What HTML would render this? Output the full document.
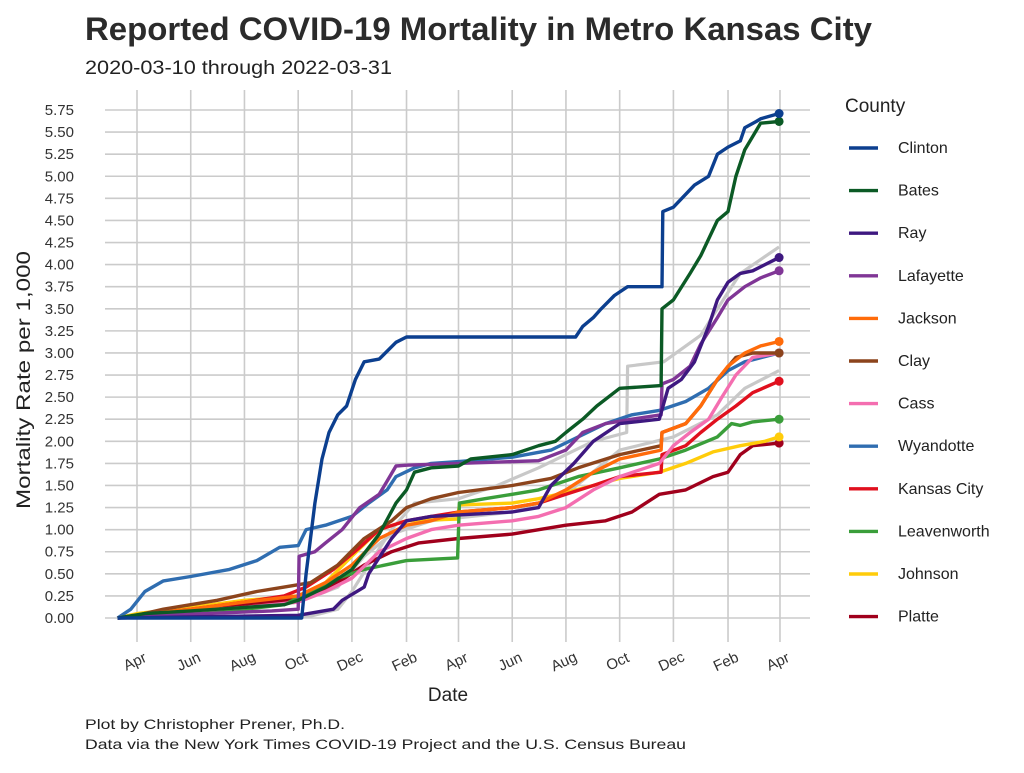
<!DOCTYPE html>
<html><head><meta charset="utf-8"><style>
body{margin:0;background:#fff;}
svg text{font-family:"Liberation Sans",sans-serif;}
</style></head><body>
<svg id="chart" width="1024" height="768" viewBox="0 0 1024 768" xmlns="http://www.w3.org/2000/svg">
<text x="85" y="40" font-size="32" font-weight="bold" fill="#2b2b2b" textLength="787" lengthAdjust="spacingAndGlyphs">Reported COVID-19 Mortality in Metro Kansas City</text>
<text x="85" y="74" font-size="19" fill="#222" textLength="307" lengthAdjust="spacingAndGlyphs">2020-03-10 through 2022-03-31</text>
<g id="grid"></g>
<g id="yticks"></g>
<g id="xticks"></g>
<g id="series"></g>
<text transform="translate(30,380) rotate(-90)" text-anchor="middle" font-size="19" fill="#222" textLength="258" lengthAdjust="spacingAndGlyphs">Mortality Rate per 1,000</text>
<text x="448" y="701" text-anchor="middle" font-size="19" fill="#222">Date</text>
<text x="85" y="729" font-size="14" fill="#222" textLength="260" lengthAdjust="spacingAndGlyphs">Plot by Christopher Prener, Ph.D.</text>
<text x="85" y="749" font-size="14" fill="#222" textLength="601" lengthAdjust="spacingAndGlyphs">Data via the New York Times COVID-19 Project and the U.S. Census Bureau</text>
<g id="legend">
<text x="845" y="112" font-size="19" fill="#222">County</text>
</g>
</svg>
<script>
const yTicks = [0,0.25,0.5,0.75,1,1.25,1.5,1.75,2,2.25,2.5,2.75,3,3.25,3.5,3.75,4,4.25,4.5,4.75,5,5.25,5.5,5.75];
const xTickDates = ["2020-04-01","2020-06-01","2020-08-01","2020-10-01","2020-12-01","2021-02-01","2021-04-01","2021-06-01","2021-08-01","2021-10-01","2021-12-01","2022-02-01","2022-04-01"];
const xTickLabels = ["Apr","Jun","Aug","Oct","Dec","Feb","Apr","Jun","Aug","Oct","Dec","Feb","Apr"];
const countyNames = ["Clinton","Bates","Ray","Lafayette","Jackson","Clay","Cass","Wyandotte","Kansas City","Leavenworth","Johnson","Platte"];
const countyColors = ["#0c3f8f","#0b5a25","#3e1880","#803696","#ff6b0a","#8c441c","#f46eb0","#2f6db0","#e0101e","#3a9e3a","#ffcc0a","#a0001c"];
const greyA = [["2020-03-10",0],["2020-10-15",0.02],["2020-11-15",0.1],["2020-12-01",0.3],["2020-12-20",0.6],["2021-01-15",1.0],["2021-02-10",1.3],["2021-04-01",1.35],["2021-05-15",1.5],["2021-07-01",1.7],["2021-09-01",2.0],["2021-10-09",2.1],["2021-10-10",2.85],["2021-11-20",2.9],["2022-01-01",3.2],["2022-01-20",3.5],["2022-02-15",3.9],["2022-03-31",4.2]];
const greyB = [["2020-03-10",0],["2020-08-01",0.1],["2020-10-01",0.18],["2020-11-15",0.35],["2020-12-15",0.7],["2021-01-15",0.95],["2021-03-01",1.1],["2021-06-01",1.2],["2021-08-01",1.4],["2021-10-01",1.9],["2021-12-01",2.05],["2022-01-20",2.3],["2022-02-20",2.6],["2022-03-31",2.8]];
const clinton = [["2020-03-10",0],["2020-10-05",0],["2020-10-10",0.5],["2020-10-15",0.9],["2020-10-20",1.3],["2020-10-28",1.8],["2020-11-05",2.1],["2020-11-15",2.3],["2020-11-25",2.4],["2020-12-05",2.7],["2020-12-15",2.9],["2021-01-01",2.93],["2021-01-20",3.12],["2021-02-01",3.18],["2021-08-12",3.18],["2021-08-20",3.3],["2021-09-01",3.4],["2021-09-10",3.5],["2021-09-25",3.65],["2021-10-10",3.75],["2021-11-18",3.75],["2021-11-19",4.6],["2021-12-01",4.65],["2021-12-25",4.9],["2022-01-10",5.0],["2022-01-20",5.25],["2022-02-01",5.33],["2022-02-15",5.4],["2022-02-20",5.55],["2022-03-05",5.62],["2022-03-10",5.65],["2022-03-31",5.71]];
const bates = [["2020-03-10",0],["2020-04-10",0.05],["2020-06-01",0.08],["2020-08-01",0.12],["2020-09-15",0.15],["2020-10-01",0.2],["2020-11-01",0.35],["2020-12-01",0.55],["2021-01-01",0.95],["2021-01-20",1.3],["2021-02-01",1.45],["2021-02-10",1.65],["2021-03-01",1.7],["2021-04-01",1.72],["2021-04-15",1.8],["2021-06-01",1.85],["2021-07-01",1.95],["2021-07-20",2.0],["2021-08-01",2.1],["2021-08-20",2.25],["2021-09-05",2.4],["2021-10-01",2.6],["2021-11-17",2.63],["2021-11-18",3.5],["2021-12-01",3.6],["2021-12-20",3.9],["2022-01-01",4.1],["2022-01-20",4.5],["2022-02-01",4.6],["2022-02-10",5.0],["2022-02-20",5.3],["2022-03-01",5.45],["2022-03-10",5.6],["2022-03-31",5.62]];
const ray = [["2020-03-10",0],["2020-10-01",0.03],["2020-11-10",0.1],["2020-11-20",0.2],["2020-12-15",0.35],["2020-12-20",0.5],["2021-01-15",0.9],["2021-02-01",1.1],["2021-03-01",1.15],["2021-06-01",1.2],["2021-07-01",1.25],["2021-07-15",1.5],["2021-08-10",1.75],["2021-09-01",2.0],["2021-10-01",2.2],["2021-11-15",2.25],["2021-11-25",2.6],["2021-12-10",2.7],["2021-12-25",2.9],["2022-01-10",3.3],["2022-01-20",3.6],["2022-02-01",3.8],["2022-02-15",3.9],["2022-03-01",3.93],["2022-03-25",4.05],["2022-03-31",4.08]];
const lafayette = [["2020-03-10",0],["2020-05-01",0.03],["2020-09-01",0.08],["2020-10-01",0.1],["2020-10-02",0.7],["2020-10-20",0.75],["2020-11-01",0.85],["2020-11-20",1.0],["2020-12-10",1.25],["2021-01-01",1.4],["2021-01-10",1.55],["2021-01-20",1.72],["2021-02-01",1.73],["2021-07-01",1.78],["2021-08-01",1.9],["2021-08-20",2.1],["2021-09-15",2.2],["2021-10-15",2.25],["2021-11-17",2.3],["2021-11-18",2.65],["2021-12-01",2.7],["2021-12-20",2.85],["2022-01-01",3.1],["2022-01-20",3.4],["2022-02-01",3.6],["2022-02-20",3.75],["2022-03-10",3.85],["2022-03-31",3.93]];
const jackson = [["2020-03-10",0],["2020-04-01",0.03],["2020-06-01",0.1],["2020-08-01",0.18],["2020-10-01",0.25],["2020-11-01",0.4],["2020-12-01",0.6],["2021-01-01",0.9],["2021-02-01",1.05],["2021-03-01",1.1],["2021-04-01",1.2],["2021-06-01",1.25],["2021-07-01",1.3],["2021-08-01",1.45],["2021-09-01",1.65],["2021-10-01",1.8],["2021-11-17",1.9],["2021-11-18",2.1],["2021-12-15",2.2],["2022-01-01",2.4],["2022-01-20",2.7],["2022-02-01",2.85],["2022-02-20",3.0],["2022-03-10",3.08],["2022-03-31",3.13]];
const clay = [["2020-03-10",0],["2020-04-01",0.03],["2020-05-01",0.1],["2020-07-01",0.2],["2020-08-15",0.3],["2020-09-15",0.35],["2020-10-15",0.4],["2020-11-15",0.6],["2020-12-15",0.9],["2021-01-15",1.1],["2021-02-01",1.25],["2021-03-01",1.35],["2021-04-01",1.42],["2021-06-01",1.5],["2021-07-15",1.58],["2021-08-15",1.7],["2021-10-01",1.85],["2021-11-17",1.95],["2021-11-18",2.1],["2021-12-15",2.2],["2022-01-01",2.4],["2022-01-20",2.7],["2022-02-10",2.95],["2022-03-01",3.0],["2022-03-31",3.0]];
const cass = [["2020-03-10",0],["2020-04-01",0.03],["2020-06-01",0.08],["2020-08-01",0.12],["2020-10-01",0.18],["2020-11-01",0.3],["2020-12-01",0.45],["2021-01-01",0.75],["2021-02-01",0.9],["2021-03-01",1.0],["2021-04-01",1.05],["2021-06-01",1.1],["2021-07-01",1.15],["2021-08-01",1.25],["2021-09-01",1.45],["2021-10-01",1.6],["2021-11-15",1.75],["2021-12-01",1.95],["2021-12-20",2.1],["2022-01-10",2.25],["2022-01-25",2.5],["2022-02-10",2.75],["2022-03-01",2.95],["2022-03-31",3.0]];
const wyandotte = [["2020-03-10",0],["2020-03-25",0.1],["2020-04-10",0.3],["2020-05-01",0.42],["2020-06-01",0.47],["2020-07-15",0.55],["2020-08-15",0.65],["2020-09-10",0.8],["2020-10-01",0.82],["2020-10-10",1.0],["2020-11-01",1.05],["2020-12-01",1.15],["2020-12-20",1.3],["2021-01-10",1.45],["2021-01-20",1.6],["2021-02-10",1.7],["2021-03-01",1.75],["2021-04-01",1.77],["2021-06-01",1.82],["2021-07-15",1.9],["2021-08-15",2.05],["2021-09-15",2.2],["2021-10-15",2.3],["2021-11-15",2.35],["2021-12-15",2.45],["2022-01-10",2.6],["2022-02-01",2.8],["2022-02-20",2.9],["2022-03-31",3.0]];
const kansasCity = [["2020-03-10",0],["2020-04-01",0.03],["2020-06-01",0.1],["2020-08-01",0.18],["2020-09-15",0.25],["2020-10-10",0.35],["2020-11-10",0.55],["2020-12-10",0.8],["2021-01-01",1.0],["2021-02-01",1.1],["2021-03-01",1.15],["2021-04-01",1.2],["2021-06-01",1.25],["2021-07-01",1.3],["2021-08-01",1.4],["2021-09-01",1.5],["2021-10-01",1.6],["2021-11-17",1.65],["2021-11-18",1.85],["2021-12-15",1.95],["2022-01-01",2.1],["2022-01-20",2.25],["2022-02-10",2.4],["2022-03-01",2.55],["2022-03-31",2.68]];
const leavenworth = [["2020-03-10",0],["2020-04-01",0.03],["2020-06-01",0.07],["2020-08-01",0.1],["2020-09-15",0.15],["2020-10-15",0.3],["2020-11-15",0.45],["2020-12-15",0.55],["2021-02-01",0.65],["2021-03-31",0.68],["2021-04-02",1.3],["2021-05-01",1.35],["2021-06-01",1.4],["2021-07-01",1.45],["2021-08-15",1.6],["2021-10-01",1.7],["2021-11-15",1.8],["2021-12-15",1.9],["2022-01-20",2.05],["2022-02-05",2.2],["2022-02-15",2.18],["2022-03-01",2.22],["2022-03-31",2.25]];
const johnson = [["2020-03-10",0],["2020-04-01",0.05],["2020-06-01",0.12],["2020-08-01",0.2],["2020-10-01",0.25],["2020-11-01",0.4],["2020-12-01",0.7],["2021-01-01",1.0],["2021-02-01",1.1],["2021-03-31",1.12],["2021-04-02",1.28],["2021-06-01",1.3],["2021-07-01",1.35],["2021-08-01",1.42],["2021-09-01",1.5],["2021-10-01",1.58],["2021-11-15",1.65],["2021-12-15",1.75],["2022-01-15",1.88],["2022-02-15",1.95],["2022-03-15",2.0],["2022-03-31",2.05]];
const platte = [["2020-03-10",0],["2020-04-01",0.02],["2020-06-01",0.05],["2020-08-01",0.15],["2020-09-15",0.2],["2020-10-15",0.25],["2020-11-15",0.4],["2020-12-15",0.6],["2021-01-15",0.75],["2021-02-15",0.85],["2021-04-01",0.9],["2021-06-01",0.95],["2021-08-01",1.05],["2021-09-15",1.1],["2021-10-15",1.2],["2021-11-15",1.4],["2021-12-15",1.45],["2022-01-15",1.6],["2022-02-01",1.65],["2022-02-15",1.85],["2022-03-01",1.95],["2022-03-31",1.98]];
const seriesData = [clinton,bates,ray,lafayette,jackson,clay,cass,wyandotte,kansasCity,leavenworth,johnson,platte];

const NS="http://www.w3.org/2000/svg";
const X0=137, XPD=0.8808, Y0=618, YPU=88.35;
const base=Date.UTC(2020,3,1);
function day(s){const p=s.split("-");return (Date.UTC(+p[0],+p[1]-1,+p[2])-base)/86400000;}
function xs(s){return X0+day(s)*XPD;}
function ys(v){return Y0-v*YPU;}
function mk(tag,attrs,parent){const e=document.createElementNS(NS,tag);for(const k in attrs)e.setAttribute(k,attrs[k]);parent.appendChild(e);return e;}

const grid=document.getElementById("grid"), yt=document.getElementById("yticks"), xt=document.getElementById("xticks");
yTicks.forEach(v=>{
  const l=mk("line",{x1:105,x2:810,y1:ys(v),y2:ys(v),stroke:"#cbcbcb","stroke-width":1.6},grid);
  
  
  const t=mk("text",{x:74,y:ys(v)+5,"text-anchor":"end","font-size":15,fill:"#333"},yt);
  t.textContent=v.toFixed(2);
  
  
});
xTickDates.forEach((d,i)=>{
  const x=xs(d);
  const l=mk("line",{x1:x,x2:x,y1:90,y2:642,stroke:"#cbcbcb","stroke-width":1.6},grid);
  
  
  const t=mk("text",{transform:`translate(${x},666) rotate(-25)`,"text-anchor":"middle","font-size":15,fill:"#333"},xt);
  t.textContent=xTickLabels[i];
  
  
});
function linePath(arr){
  let d="M"+xs(arr[0][0]).toFixed(1)+","+ys(arr[0][1]).toFixed(1);
  for(let i=1;i<arr.length;i++){d+="L"+xs(arr[i][0]).toFixed(1)+","+ys(arr[i][1]).toFixed(1);}
  return d;
}
const sg=document.getElementById("series");
[greyA,greyB].forEach(a=>{
  const p=mk("path",{d:linePath(a),fill:"none",stroke:"#c8c8c8","stroke-width":3.2,"stroke-linejoin":"round"},sg);
  
  
});
for(let i=seriesData.length-1;i>=0;i--){
  const a=seriesData[i];
  const p=mk("path",{d:linePath(a),fill:"none",stroke:countyColors[i],"stroke-width":3.4,"stroke-linejoin":"round"},sg);
  
  
  const last=a[a.length-1];
  const c=mk("circle",{cx:xs(last[0]),cy:ys(last[1]),r:4.5,fill:countyColors[i]},sg);
  
  
}
const lg=document.getElementById("legend");
countyNames.forEach((n,i)=>{
  const y=148+i*42.6;
  const g=mk("g",{},lg);
  
  
  mk("line",{x1:849,x2:878,y1:y,y2:y,stroke:countyColors[i],"stroke-width":3.4},g);
  const t=mk("text",{x:898,y:y+5,"font-size":16,fill:"#222"},g);
  t.textContent=n;
});
</script>
</body></html>
